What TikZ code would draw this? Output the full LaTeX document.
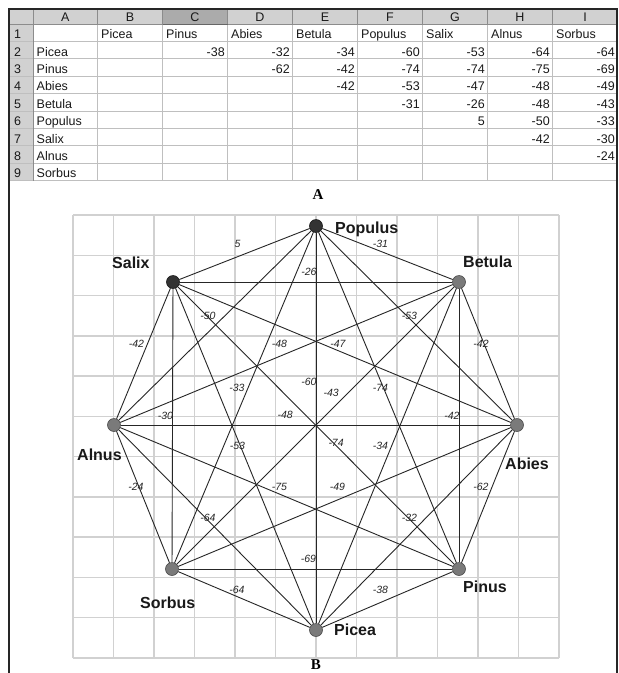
\documentclass[tikz,border=0pt]{standalone}
\usepackage{fontspec}
\setmainfont{Liberation Sans}
\newfontfamily\capserif{Liberation Serif}
\begin{document}
\begin{tikzpicture}[x=1pt,y=-1pt,
  cellline/.style={draw=black!25, line width=0.8pt},
  hdrline/.style={draw=black!45, line width=0.8pt},
  sheettext/.style={font=\fontsize{12.5}{12.5}\selectfont, inner sep=0pt, text=black!90},
  gridline/.style={draw=black!18, line width=1.4pt},
  edge/.style={draw=black!85, line width=0.9pt},
  dot/.style={circle, inner sep=0pt, minimum size=13pt, draw=black!70, line width=0.6pt, fill=black!52},
  darkdot/.style={dot, fill=black!80, draw=black!90},
  spname/.style={font=\fontsize{16}{16}\selectfont\bfseries, inner sep=0pt, text=black!90, anchor=base west},
  elab/.style={font=\fontsize{10.5}{10.5}\selectfont\itshape, inner sep=0pt, text=black!85, xshift=-7pt, yshift=10pt},
  figcap/.style={font=\capserif\fontsize{15}{15}\selectfont\bfseries, inner sep=0pt, anchor=base}
]
\useasboundingbox (0,0) rectangle (619,673);
\clip (0,0) rectangle (619,673);
\fill[white] (0,0) rectangle (619,673);

% ---------- spreadsheet ----------
\fill[black!18] (9,9) rectangle (617,24);
\fill[black!18] (9,24) rectangle (33,180.6);
\fill[black!33] (162.5,9) rectangle (227.5,24);
% cell grid
\foreach \r in {1,...,9} {
  \draw[cellline] (9,{24+17.4*\r}) -- (617,{24+17.4*\r});
}
\foreach \x in {97.5,162.5,227.5,292.5,357.5,422.5,487.5,552.5} {
  \draw[cellline] (\x,24) -- (\x,180.6);
  \draw[hdrline] (\x,9) -- (\x,24);
}
\draw[hdrline] (33,9) -- (33,180.6);
\draw[hdrline] (9,24) -- (617,24);
\draw[draw=black!60, line width=0.8pt] (162.5,24) -- (227.5,24);
% column letters
\node[sheettext, anchor=base] (hA) at (65.25,21.5) {A};
\foreach \L [count=\i] in {B,C,D,E,F,G,H,I} {
  \node[sheettext, anchor=base] (h\L) at ({65+65*\i},21.5) {\L};
}
% row numbers
\foreach \r in {1,...,9} {
  \node[sheettext, anchor=base west] (rn\r) at (14,{21.2+17.4*\r}) {\r};
}
% species names
\foreach \s [count=\k] in {Picea,Pinus,Abies,Betula,Populus,Salix,Alnus,Sorbus} {
  \node[sheettext, anchor=base west] (top\k) at ({101+65*(\k-1)},{21.2+17.4}) {\s};
  \node[sheettext, anchor=base west] (side\k) at (36.5,{21.2+17.4*(\k+1)}) {\s};
}
% values
\foreach \r/\k/\v in {
  2/2/-38, 2/3/-32, 2/4/-34, 2/5/-60, 2/6/-53, 2/7/-64, 2/8/-64,
  3/3/-62, 3/4/-42, 3/5/-74, 3/6/-74, 3/7/-75, 3/8/-69,
  4/4/-42, 4/5/-53, 4/6/-47, 4/7/-48, 4/8/-49,
  5/5/-31, 5/6/-26, 5/7/-48, 5/8/-43,
  6/6/5, 6/7/-50, 6/8/-33,
  7/7/-42, 7/8/-30,
  8/8/-24} {
  \node[sheettext, anchor=base east] (v\r-\k) at ({97.5+65*\k-2.5},{21.2+17.4*\r}) {\v};
}
\node[figcap] (capA) at (318,199) {A};

% ---------- graph grid ----------
\foreach \i in {0,...,12} {
  \draw[gridline] ({73+40.5*\i},215) -- ({73+40.5*\i},658);
}
\foreach \j in {0,...,11} {
  \draw[gridline] (73,{215+40.27*\j}) -- (559,{215+40.27*\j});
}

% ---------- outer frame ----------
\draw[black!85, line width=1.1pt] (9,690) -- (9,9) -- (617,9) -- (617,690);

% ---------- nodes ----------
\node[darkdot] (Populus) at (316,226) {};
\node[dot] (Betula) at (459,282) {};
\node[dot] (Abies) at (517,425) {};
\node[dot] (Pinus) at (459,569) {};
\node[dot] (Picea) at (316,630) {};
\node[dot] (Sorbus) at (172,569) {};
\node[dot] (Alnus) at (114,425) {};
\node[darkdot] (Salix) at (173,282) {};

% ---------- edges ----------
\foreach \a/\b/\p/\v in {
  Populus/Salix/.5/5, Populus/Betula/.5/-31, Salix/Betula/.5/-26,
  Salix/Alnus/.5/-42, Betula/Abies/.5/-42, Alnus/Sorbus/.5/-24,
  Abies/Pinus/.5/-62, Sorbus/Picea/.5/-64, Pinus/Picea/.5/-38,
  Sorbus/Pinus/.5/-69, Picea/Abies/.5/-32, Picea/Alnus/.5/-64,
  Salix/Sorbus/.5/-30, Betula/Pinus/.5/-42, Picea/Betula/.5/-34,
  Picea/Salix/.5/-53, Populus/Picea/.407/-60, Populus/Pinus/.5/-74,
  Salix/Pinus/.598/-74, Alnus/Pinus/.5/-75, Populus/Abies/.5/-53,
  Salix/Abies/.5/-47, Alnus/Abies/.44/-48, Sorbus/Abies/.5/-49,
  Betula/Alnus/.5/-48, Betula/Sorbus/.418/-43, Populus/Alnus/.5/-50,
  Populus/Sorbus/.5/-33} {
  \draw[edge] (\a) -- (\b) node[elab, pos=\p] (e-\a-\b) {\v};
}

% ---------- species labels ----------
\node[spname] (lPopulus) at (335,233) {Populus};
\node[spname] (lSalix) at (112,268.5) {Salix};
\node[spname] (lBetula) at (463,267.5) {Betula};
\node[spname] (lAlnus) at (77,460.5) {Alnus};
\node[spname] (lAbies) at (505,469.5) {Abies};
\node[spname] (lSorbus) at (140,608.5) {Sorbus};
\node[spname] (lPinus) at (463,592.5) {Pinus};
\node[spname] (lPicea) at (334,635.5) {Picea};

\node[figcap] (capB) at (316,669.5) {B};
\end{tikzpicture}
\end{document}
